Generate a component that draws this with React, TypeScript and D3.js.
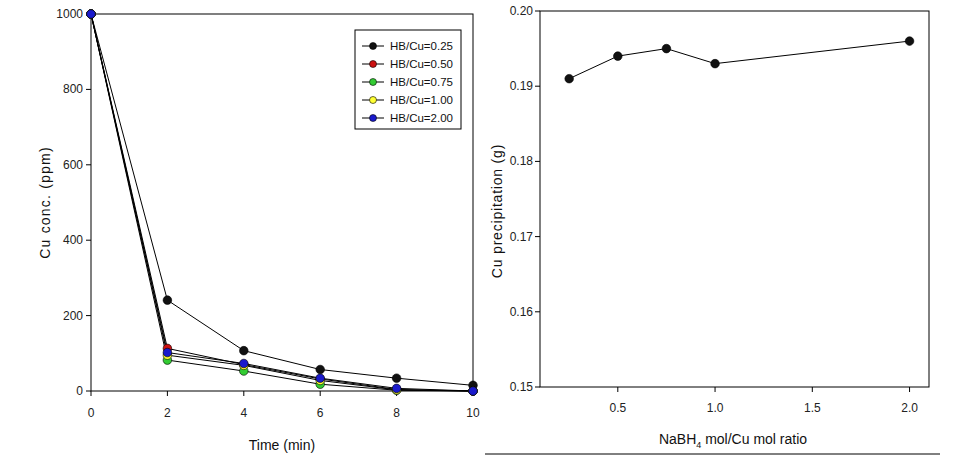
import React from "react";
import * as d3 from "d3";

const times = [0, 2, 4, 6, 8, 10];
const seriesNames = ["HB/Cu=0.25", "HB/Cu=0.50", "HB/Cu=0.75", "HB/Cu=1.00", "HB/Cu=2.00"];
const seriesColors = ["#111111", "#cc1111", "#33cc33", "#ffff33", "#1a1acc"];
const hb025 = [1000, 241, 107, 57, 34, 15];
const hb050 = [1000, 113, 70, 32, 4, 0];
const hb075 = [1000, 82, 53, 18, 2, 0];
const hb100 = [1000, 95, 68, 28, 3, 0];
const hb200 = [1000, 102, 73, 34, 7, 0];
const leftSeries = [hb025, hb050, hb075, hb100, hb200];
const leftYTicks = [0, 200, 400, 600, 800, 1000];
const leftXTicks = [0, 2, 4, 6, 8, 10];

const ratios = [0.25, 0.5, 0.75, 1.0, 2.0];
const precip = [0.191, 0.194, 0.195, 0.193, 0.196];
const rightYTicks = [0.15, 0.16, 0.17, 0.18, 0.19, 0.2];
const rightXTicks = [0.5, 1.0, 1.5, 2.0];

const FONT = "'Liberation Sans', Arial, sans-serif";

export default function App() {
  const lx = d3.scaleLinear().domain([0, 10]).range([91, 473]);
  const ly = d3.scaleLinear().domain([0, 1000]).range([391, 14]);
  const lline = d3
    .line<number>()
    .x((_, i) => lx(times[i]))
    .y((d) => ly(d));

  const rx = d3.scaleLinear().domain([0.1, 2.1]).range([540, 929]);
  const ry = d3.scaleLinear().domain([0.15, 0.2]).range([387, 11]);
  const rline = d3
    .line<number>()
    .x((_, i) => rx(ratios[i]))
    .y((d) => ry(d));

  const tickFont = { fontFamily: FONT, fontSize: 12, fill: "#222" };

  return (
    <svg
      width={958}
      height={465}
      style={{ position: "absolute", left: 0, top: 0, background: "#fff" }}
    >
      <rect x={0} y={0} width={958} height={465} fill="#fff" />
      {/* LEFT CHART */}
      <rect x={91} y={14} width={473 - 91} height={391 - 14} fill="none" stroke="#000" strokeWidth={1} />
      {leftYTicks.map((t) => (
        <g key={"ly" + t}>
          <line x1={86} x2={91} y1={ly(t)} y2={ly(t)} stroke="#000" />
          <text x={83} y={ly(t) + 4} textAnchor="end" {...tickFont}>
            {t}
          </text>
        </g>
      ))}
      {leftXTicks.map((t) => (
        <g key={"lx" + t}>
          <line x1={lx(t)} x2={lx(t)} y1={391} y2={396} stroke="#000" />
          <text x={lx(t)} y={417} textAnchor="middle" {...tickFont}>
            {t}
          </text>
        </g>
      ))}
      <text x={282} y={450} textAnchor="middle" fontFamily={FONT} fontSize={14} fill="#111">
        Time (min)
      </text>
      <text
        transform={`translate(50,${(14 + 391) / 2}) rotate(-90)`}
        textAnchor="middle"
        fontFamily={FONT}
        fontSize={14}
        letterSpacing={1.2}
        fill="#111"
      >
        Cu conc. (ppm)
      </text>
      {leftSeries.map((s, k) => (
        <path key={"lp" + k} d={lline(s) || ""} fill="none" stroke="#000" strokeWidth={1} />
      ))}
      {leftSeries.map((s, k) =>
        s.map((v, i) => (
          <circle
            key={"lc" + k + "_" + i}
            cx={lx(times[i])}
            cy={ly(v)}
            r={4.3}
            fill={seriesColors[k]}
            stroke="#000"
            strokeWidth={0.6}
          />
        ))
      )}
      {/* legend */}
      <rect x={355} y={30} width={106} height={99} fill="#fff" stroke="#000" strokeWidth={1} />
      {seriesNames.map((n, k) => {
        const y = 46 + k * 18;
        return (
          <g key={"lg" + k}>
            <line x1={362} x2={384} y1={y} y2={y} stroke="#000" />
            <circle cx={373} cy={y} r={3.5} fill={seriesColors[k]} stroke="#000" strokeWidth={0.6} />
            <text x={390} y={y + 4} fontFamily={FONT} fontSize={11.5} fill="#111">
              {n}
            </text>
          </g>
        );
      })}

      {/* RIGHT CHART */}
      <rect x={540} y={11} width={929 - 540} height={387 - 11} fill="none" stroke="#000" strokeWidth={1} />
      {rightYTicks.map((t) => (
        <g key={"ry" + t}>
          <line x1={535} x2={540} y1={ry(t)} y2={ry(t)} stroke="#000" />
          <text x={533} y={ry(t) + 4} textAnchor="end" {...tickFont}>
            {d3.format(".2f")(t)}
          </text>
        </g>
      ))}
      {rightXTicks.map((t) => (
        <g key={"rx" + t}>
          <line x1={rx(t)} x2={rx(t)} y1={387} y2={392} stroke="#000" />
          <text x={rx(t)} y={412} textAnchor="middle" {...tickFont}>
            {d3.format(".1f")(t)}
          </text>
        </g>
      ))}
      <text x={733} y={444} textAnchor="middle" fontFamily={FONT} fontSize={14} fill="#111">
        NaBH
        <tspan fontSize={9} dy={4}>4</tspan>
        <tspan dy={-4}> mol/Cu mol ratio</tspan>
      </text>
      <text
        transform={`translate(502,${(11 + 387) / 2 + 12}) rotate(-90)`}
        textAnchor="middle"
        fontFamily={FONT}
        fontSize={14}
        letterSpacing={0.8}
        fill="#111"
      >
        Cu precipitation (g)
      </text>
      <path d={rline(precip) || ""} fill="none" stroke="#000" strokeWidth={1} />
      {precip.map((v, i) => (
        <circle key={"rc" + i} cx={rx(ratios[i])} cy={ry(v)} r={4.3} fill="#111" stroke="#000" strokeWidth={0.6} />
      ))}
      <line x1={485} x2={940} y1={454} y2={454} stroke="#000" strokeWidth={1} />
    </svg>
  );
}
